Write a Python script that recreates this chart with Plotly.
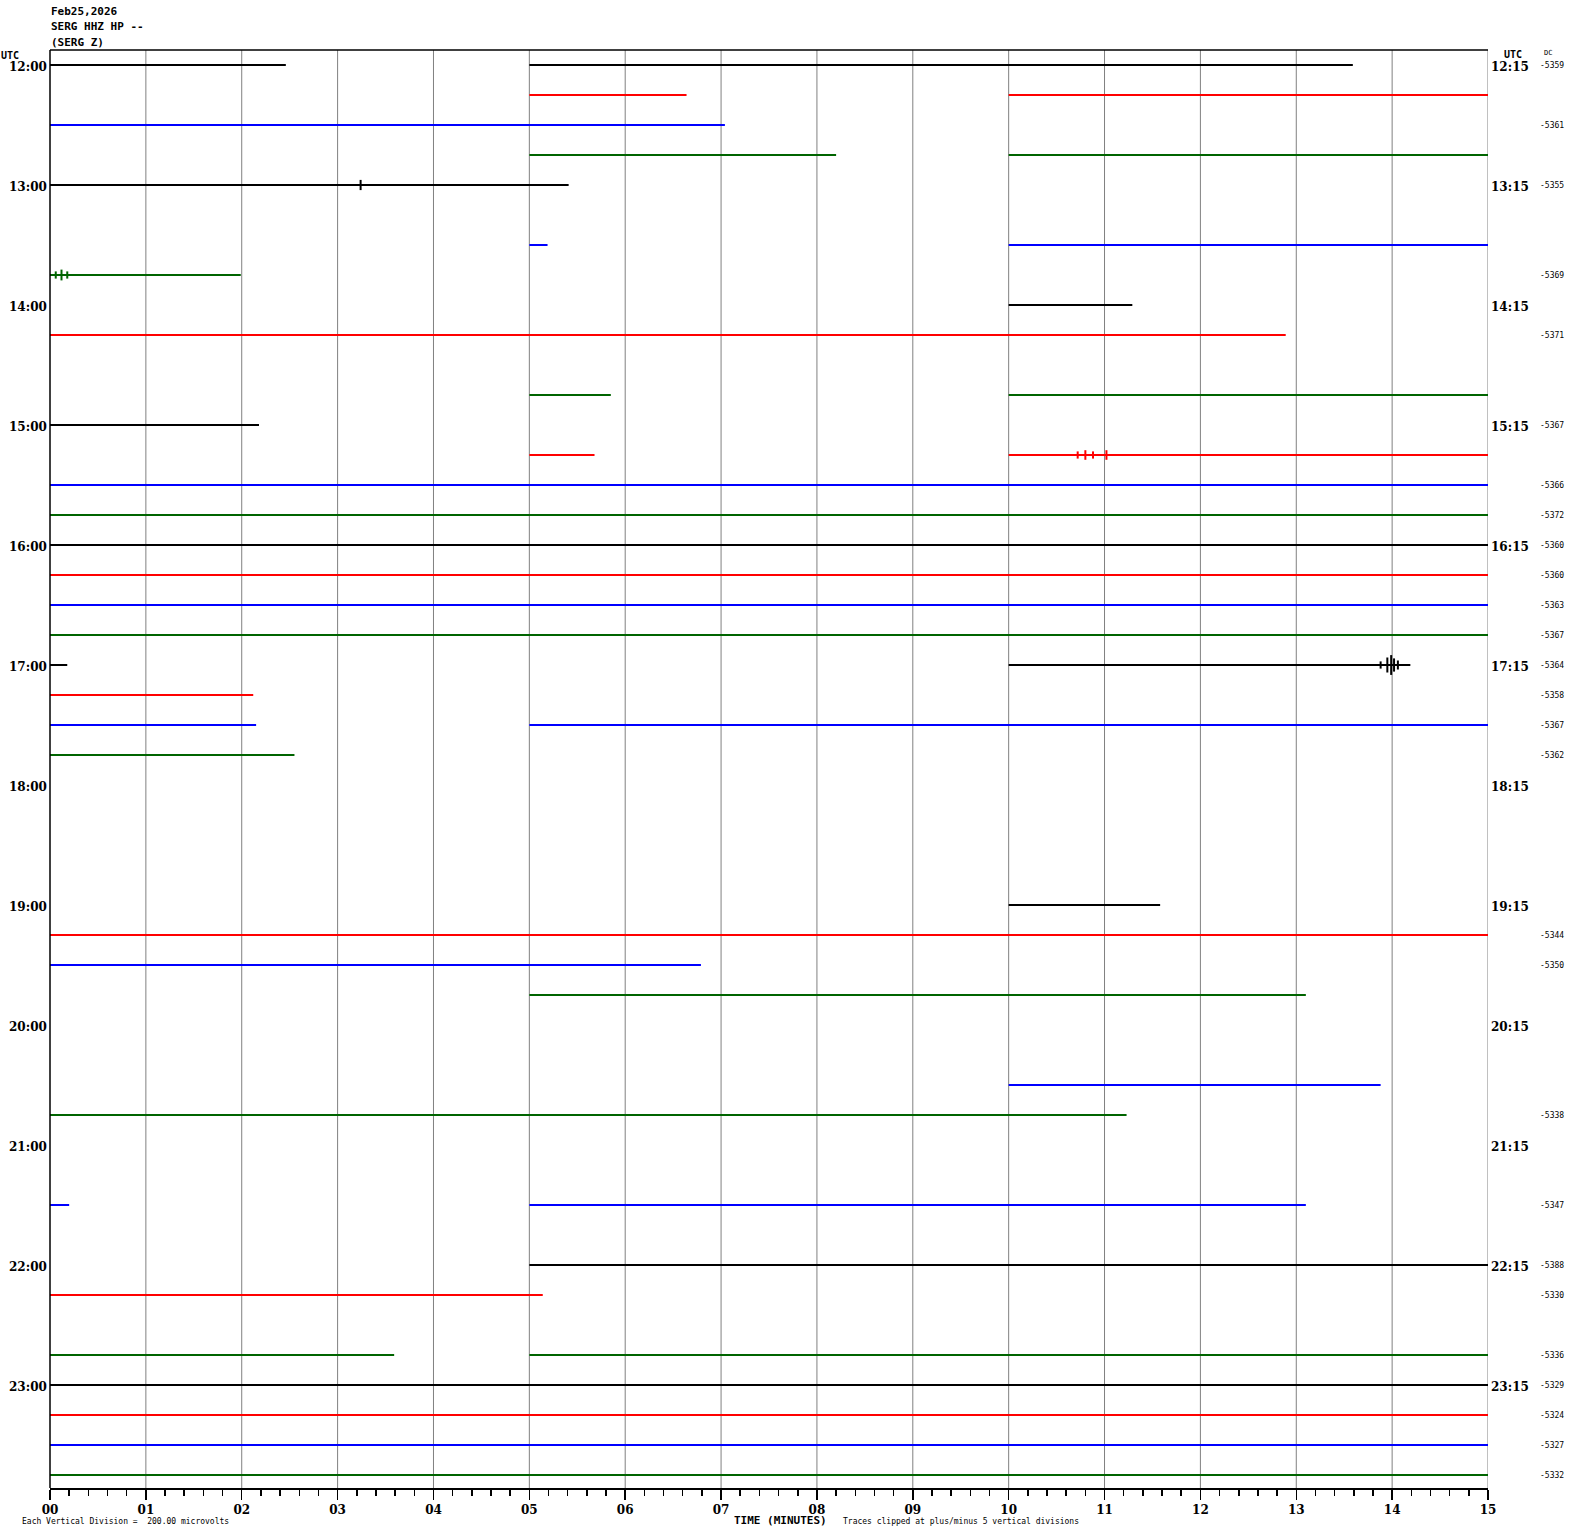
import plotly.graph_objects as go

# ---------------- data ----------------
title_lines = ["Feb25,2026", "SERG HHZ HP --", "(SERG Z)"]
row_colors = ["#000000", "#ff0000", "#0000ff", "#006400"]
n_rows = 48
left_labels = ["12:00", "13:00", "14:00", "15:00", "16:00", "17:00",
               "18:00", "19:00", "20:00", "21:00", "22:00", "23:00"]
right_labels = ["12:15", "13:15", "14:15", "15:15", "16:15", "17:15",
                "18:15", "19:15", "20:15", "21:15", "22:15", "23:15"]
x_tick_vals = list(range(16))
x_tick_text = ["%02d" % v for v in x_tick_vals]

# segments: (row, start minute, end minute)
seg_rows = [0, 0, 1, 1, 2, 3, 3, 4, 6, 6, 7, 8, 9, 11, 11, 12, 13, 13,
            14, 15, 16, 17, 18, 19, 20, 20, 21, 22, 22, 23, 28, 29, 30, 31,
            34, 35, 38, 38, 40, 41, 43, 43, 44, 45, 46, 47]
seg_start = [0, 5, 5, 10, 0, 5, 10, 0, 5, 10, 0, 10, 0, 5, 10, 0, 5, 10,
             0, 0, 0, 0, 0, 0, 0, 10, 0, 0, 5, 0, 10, 0, 0, 5,
             10, 0, 0, 5, 5, 0, 0, 5, 0, 0, 0, 0]
seg_end = [2.46, 13.59, 6.64, 15, 7.04, 8.2, 15, 5.41, 5.19, 15, 1.99, 11.29, 12.89, 5.85, 15, 2.18, 5.68, 15,
           15, 15, 15, 15, 15, 15, 0.18, 14.19, 2.12, 2.15, 15, 2.55, 11.58, 15, 6.79, 13.1,
           13.88, 11.23, 0.2, 13.1, 15, 5.14, 3.59, 15, 15, 15, 15, 15]

# bursts: (row, minute, half-amplitude in rows)
ev_rows = [20, 20, 20, 20, 20, 13, 13, 13, 13, 4, 7, 7, 7]
ev_min = [13.95, 13.99, 14.02, 14.06, 13.88, 10.72, 10.8, 10.88, 11.02, 3.24, 0.06, 0.12, 0.18]
ev_amp = [0.25, 0.33, 0.22, 0.15, 0.12, 0.12, 0.16, 0.12, 0.16, 0.17, 0.12, 0.18, 0.12]

# DC offset labels per row
dc_rows = [0, 2, 4, 7, 9, 12, 14, 15, 16, 17, 18, 19, 20, 21, 22, 23,
           29, 30, 35, 38, 40, 41, 43, 44, 45, 46, 47]
dc_vals = [-5359, -5361, -5355, -5369, -5371, -5367, -5366, -5372, -5360, -5360, -5363, -5367,
           -5364, -5358, -5367, -5362, -5344, -5350, -5338, -5347, -5388, -5330, -5336,
           -5329, -5324, -5327, -5332]

# ---------------- figure ----------------
W, H = 1570, 1534
L, R, T, B = 50, 1488, 50, 1488
fig = go.Figure()

for c in range(4):
    xs, ys = [], []
    for r, s, e in zip(seg_rows, seg_start, seg_end):
        if r % 4 == c:
            xs += [s, e, None]
            ys += [r, r, None]
    for r, m, a in zip(ev_rows, ev_min, ev_amp):
        if r % 4 == c:
            xs += [m, m, None]
            ys += [r - a, r + a, None]
    fig.add_trace(go.Scatter(x=xs, y=ys, mode="lines",
                             line=dict(color=row_colors[c], width=2),
                             hoverinfo="skip", showlegend=False))

for m in range(1, 16):
    fig.add_shape(type="line", x0=m, x1=m, y0=0, y1=1, xref="x", yref="paper",
                  line=dict(color="#808080", width=1), layer="below")

fig.add_shape(type="line", x0=0, x1=1, y0=1, y1=1, xref="paper", yref="paper",
              line=dict(color="black", width=1.5))
fig.add_shape(type="line", x0=0, x1=0, y0=0, y1=1, xref="paper", yref="paper",
              line=dict(color="black", width=1.5))

serif = "DejaVu Serif, Liberation Serif, serif"
mono = "DejaVu Sans Mono, Liberation Mono, monospace"
lab_font = dict(family=serif, size=12, color="black")
small_font = dict(family=mono, size=8, color="black")


def px(xp):
    return (xp - L) / (R - L)


def py(yp):
    return (B - yp) / (B - T)


ann = []
for i, t in enumerate(left_labels):
    ann.append(dict(x=0, xref="paper", y=i * 4, yref="y", text="<b>%s</b>" % t,
                    showarrow=False, xanchor="right", yanchor="middle", xshift=-1, yshift=-2,
                    font=lab_font))
for i, t in enumerate(right_labels):
    ann.append(dict(x=1, xref="paper", y=i * 4, yref="y", text="<b>%s</b>" % t,
                    showarrow=False, xanchor="left", yanchor="middle", xshift=1, yshift=-2,
                    font=lab_font))
for r, v in zip(dc_rows, dc_vals):
    ann.append(dict(x=px(1538), xref="paper", y=r, yref="y", text=str(v),
                    showarrow=False, xanchor="left", yanchor="middle",
                    font=dict(family=mono, size=8, color="black")))

for k, t in enumerate(title_lines):
    ann.append(dict(x=px(L - 1), y=py(12 + 15 * k), xref="paper", yref="paper", text="<b>%s</b>" % t,
                    showarrow=False, xanchor="left", yanchor="middle",
                    font=dict(family=mono, size=11, color="black")))
ann.append(dict(x=px(-1), y=py(56), xref="paper", yref="paper", text="<b>UTC</b>", showarrow=False,
                xanchor="left", yanchor="middle", font=dict(family=mono, size=10, color="black")))
ann.append(dict(x=px(1502), y=py(55), xref="paper", yref="paper", text="<b>UTC</b>", showarrow=False,
                xanchor="left", yanchor="middle", font=dict(family=mono, size=10, color="black")))
ann.append(dict(x=px(1542), y=py(53), xref="paper", yref="paper", text="DC", showarrow=False,
                xanchor="left", yanchor="middle", font=dict(family=mono, size=7, color="black")))
ann.append(dict(x=px(781), y=py(1520), xref="paper", yref="paper", text="<b>TIME (MINUTES)</b>",
                showarrow=False, xanchor="center", yanchor="middle",
                font=dict(family=mono, size=11, color="black")))
ann.append(dict(x=px(20), y=py(1521), xref="paper", yref="paper",
                text="Each Vertical Division =  200.00 microvolts",
                showarrow=False, xanchor="left", yanchor="middle", font=small_font))
ann.append(dict(x=px(841), y=py(1521), xref="paper", yref="paper",
                text="Traces clipped at plus/minus 5 vertical divisions",
                showarrow=False, xanchor="left", yanchor="middle", font=small_font))

fig.update_layout(
    width=W, height=H,
    margin=dict(l=L, r=W - R, t=T, b=H - B, pad=0),
    paper_bgcolor="white", plot_bgcolor="white",
    annotations=ann,
    xaxis=dict(range=[0, 15], tickvals=x_tick_vals, ticktext=["<b>%s</b>" % s for s in x_tick_text],
               showgrid=False, zeroline=False, showline=True, linecolor="black", linewidth=1.5,
               ticks="outside", ticklen=10, tickcolor="black", tickwidth=1.5,
               ticklabelstandoff=0,
               tickfont=dict(family=serif, size=12, color="black"),
               minor=dict(dtick=0.2, tick0=0, ticks="outside", ticklen=6, tickcolor="black", tickwidth=1.5),
               fixedrange=True),
    yaxis=dict(range=[47 + 13 / 30.0, -0.5], showgrid=False, zeroline=False, showticklabels=False,
               ticks="", showline=False, fixedrange=True),
)

fig.write_html("out.html", config={"displayModeBar": False, "staticPlot": True},
               post_script="document.body.style.margin='0px';document.body.style.overflow='hidden';")
